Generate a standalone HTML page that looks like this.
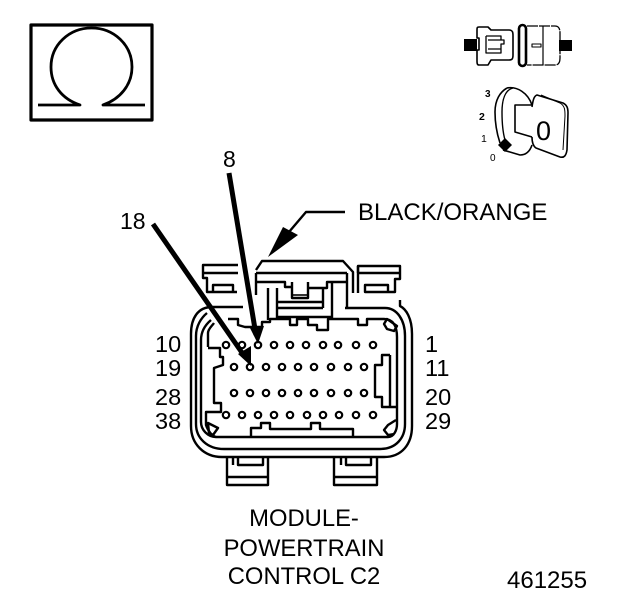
<!DOCTYPE html>
<html>
<head>
<meta charset="utf-8">
<style>
html,body{margin:0;padding:0;background:#fff;width:624px;height:600px;overflow:hidden}
svg{display:block}
text{font-family:"Liberation Sans",sans-serif;fill:#000}
</style>
</head>
<body>
<svg width="624" height="600" viewBox="0 0 624 600" xmlns="http://www.w3.org/2000/svg">
<g fill="none" stroke="#000" stroke-width="2.4" stroke-linejoin="round">
<!-- omega box -->
<rect x="31" y="25" width="121" height="95" stroke-width="3.2"/>
<path d="M38 105H80C62 99 51 85 51 67C51 45 69 28 91.5 28C114 28 132 45 132 67C132 85 120 99 103 105H145" stroke-width="2.8"/>

<!-- top clips -->
<path d="M238 265H203V278H207V292H237M203 273H238"/>
<path d="M213 292V285H233V292"/>
<path d="M358 273V266H400V279H395V292H365V285H388V292M358 273H400"/>
<path d="M358 266V293"/>

<!-- main latch -->
<path d="M256 270L262 261H343L353 272V293M256 273H347M256 273V295M347 273V307"/>
<path d="M256 282H285V287H292V282M292 282V298H308V282M308 288H327V282H347"/>
<path d="M292 295H308" stroke-width="1.6"/>
<path d="M268 288V320M277 288V318M323 288V308M332 282V318M278 302H323M278 308H323M277 317H332"/>

<!-- outer body contours -->
<path d="M243 307H221M221 307H212C198 307 191 318 191 334V426C191 444 204 457 222 457H384C402 457 412 444 412 426V334C412 318 406 309 400 306V300"/>
<path d="M207 313C201 318 196 326 196 336V424C196 438 207 449 224 449H380C396 449 405 438 405 424V336C405 320 397 308 385 308H345"/>
<path d="M201 400V422C201 430 208 437 216 437H388C394 437 397 430 397 424V337C397 326 393 319 384 319H367V325H358V319H328V330H317V325H308V319H297V325H290V319H270V322H262V327H245L238 325V319H228"/>
<path d="M201 400V340C201 333 204 326 211 320"/>

<!-- left wall -->
<path d="M208 347V333C208 329 212 326 214 323M208 348H220V357H223V365L214 368V403H221V412H206V425C208 431 212 436 216 437"/>
<!-- right wall -->
<path d="M390 355H382V365H375V397H382V407H397M390 355V407"/>
<!-- bottom key -->
<path d="M251 437V428H261V423H270V429H311V423H320V429H353V437"/>
<!-- ears -->
<path d="M387 319L397 326L394 331L387 329L384 324Z"/>
<path d="M208 423L218 428L213 435L209 433Z"/>
<path d="M396 420L388 425L384 430L388 435L394 434"/>
<!-- bottom clips -->
<path d="M227 457V485H268V457M227 477H268M233 457V465M238 457V465H263V457"/>
<path d="M334 457V485H377V457M334 477H377M341 457V465M346 457V465H371V457"/>

<!-- pins -->
<g stroke-width="2.2">
<circle cx="258" cy="345" r="3.2"/><circle cx="274" cy="345" r="3.2"/><circle cx="290" cy="345" r="3.2"/><circle cx="306" cy="345" r="3.2"/><circle cx="323" cy="345" r="3.2"/><circle cx="338" cy="345" r="3.2"/><circle cx="356" cy="345" r="3.2"/><circle cx="373" cy="345" r="3.2"/>
<circle cx="226" cy="345" r="3.2"/><circle cx="242" cy="345" r="3.2"/>
<circle cx="234" cy="367" r="3.2"/><circle cx="250" cy="367" r="3.2"/><circle cx="266" cy="367" r="3.2"/><circle cx="282" cy="367" r="3.2"/><circle cx="298" cy="367" r="3.2"/><circle cx="314" cy="367" r="3.2"/><circle cx="331" cy="367" r="3.2"/><circle cx="348" cy="367" r="3.2"/><circle cx="364" cy="367" r="3.2"/>
<circle cx="234" cy="393" r="3.2"/><circle cx="250" cy="393" r="3.2"/><circle cx="266" cy="393" r="3.2"/><circle cx="282" cy="393" r="3.2"/><circle cx="298" cy="393" r="3.2"/><circle cx="314" cy="393" r="3.2"/><circle cx="331" cy="393" r="3.2"/><circle cx="348" cy="393" r="3.2"/><circle cx="364" cy="393" r="3.2"/>
<circle cx="226" cy="415" r="3.2"/><circle cx="242" cy="415" r="3.2"/><circle cx="258" cy="415" r="3.2"/><circle cx="274" cy="415" r="3.2"/><circle cx="290" cy="415" r="3.2"/><circle cx="307" cy="415" r="3.2"/><circle cx="323" cy="415" r="3.2"/><circle cx="339" cy="415" r="3.2"/><circle cx="356" cy="415" r="3.2"/><circle cx="373" cy="415" r="3.2"/>
</g>

<!-- arrows -->
<path d="M229 173L256 335" stroke-width="5" stroke-linecap="butt"/>
<path d="M153 224L245 357" stroke-width="5" stroke-linecap="butt"/>
<path d="M345 212H306L289 232" stroke-width="2.4"/>

<!-- small connector icon -->
<path d="M479 27H488L491 30H509C513 30 513 33 513 36V55C513 59 512 60 509 60H491L488 65H479C477 65 477 63 477 60V50H479V38H477V30C477 28 477 27 479 27Z" stroke-width="1.6"/>
<path d="M486 36V53H501V49H488M486 36H501V40H504V44H501V49M488 40H501" stroke-width="1.3"/>
<rect x="519" y="25" width="7" height="41" rx="3.5" stroke-width="2.6"/>
<path d="M527 26H555C559 26 560 29 560 33V58C560 62 559 65 555 65H527" stroke-width="1.3" stroke-dasharray="11 1"/>
<path d="M543 26V65" stroke-width="1.2"/>
<rect x="532" y="44" width="9" height="3" stroke-width="1.1"/>

<!-- key icon -->
<path d="M507 88C500 92 495 100 495 112C495 125 498 137 500 143M503 150L520 155C526 155 530 151 532 145" stroke-width="1.6"/>
<path d="M513 88C505 90 502 100 502 112C502 124 503 133 505 140" stroke-width="1.4"/>
<path d="M507 88C517 86 528 93 532 105L517 105H515V132L532 137" stroke-width="1.6"/>
<path d="M532 107C533 100 534 96 537 95L563 103C567 105 568 108 568 113L567 150C566 156 564 158 560 157L536 148C533 146 532 141 532 137" stroke-width="1.6"/>
<path d="M541 95L560 103C565 106 565 110 565 116L563 150" stroke-width="1"/>
</g>

<!-- arrowheads -->
<polygon points="250,328 264,326 258,344" fill="#000"/>
<polygon points="238,354 251,346 251,366" fill="#000"/>
<polygon points="268,257 283,227 298,235" fill="#000"/>
<polygon points="505,138 512,145 505,152 498,145" fill="#000"/>
<rect x="464" y="39" width="13" height="12" fill="#000"/>
<rect x="559" y="40" width="13" height="11" fill="#000"/>

<!-- labels -->
<text x="223" y="167" font-size="23">8</text>
<text x="120" y="229" font-size="23">18</text>
<text x="358" y="220" font-size="24">BLACK/ORANGE</text>
<text x="155" y="352" font-size="23.5">10</text>
<text x="155" y="376" font-size="23.5">19</text>
<text x="155" y="405" font-size="23.5">28</text>
<text x="155" y="429" font-size="23.5">38</text>
<text x="425" y="352" font-size="23.5">1</text>
<text x="425" y="376" font-size="23.5">11</text>
<text x="425" y="405" font-size="23.5">20</text>
<text x="425" y="429" font-size="23.5">29</text>
<text x="304" y="526" font-size="23.8" text-anchor="middle">MODULE-</text>
<text x="304" y="556" font-size="23.8" text-anchor="middle">POWERTRAIN</text>
<text x="304" y="584" font-size="23.8" text-anchor="middle">CONTROL C2</text>
<text x="507" y="588" font-size="24">461255</text>
<text x="485" y="97" font-size="10" font-weight="bold">3</text>
<text x="479" y="120" font-size="10.5" font-weight="bold">2</text>
<text x="481" y="142" font-size="10.5">1</text>
<text x="490" y="161" font-size="10">0</text>
<text x="536" y="140" font-size="27">0</text>
</svg>
</body>
</html>
